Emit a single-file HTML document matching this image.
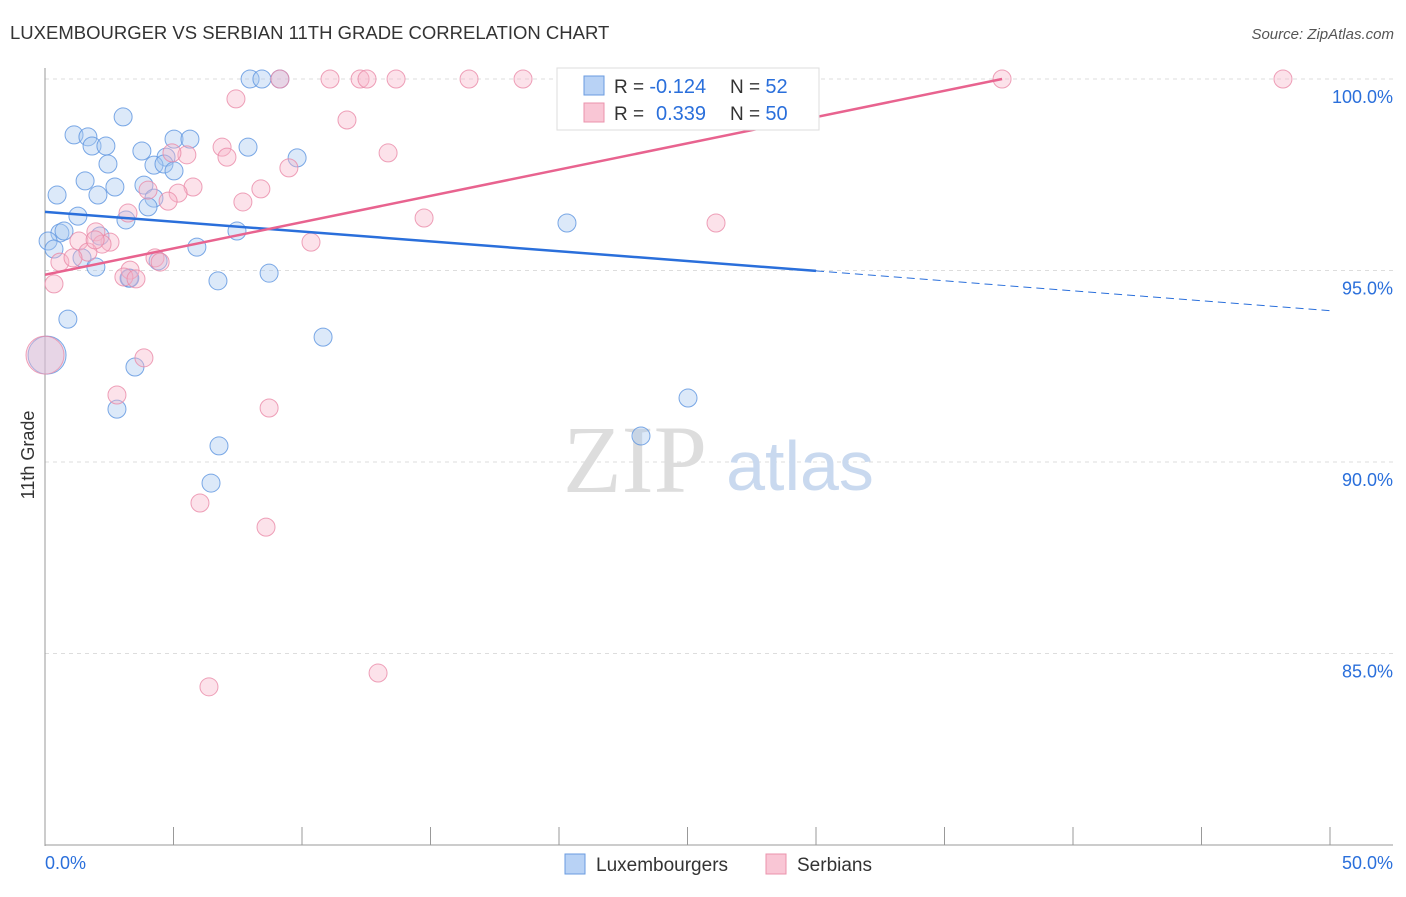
<!DOCTYPE html>
<html><head><meta charset="utf-8"><style>
body{margin:0;background:#fff;font-family:"Liberation Sans",sans-serif;}
</style></head><body>
<svg id="c" width="1406" height="892" xmlns="http://www.w3.org/2000/svg">
<text x="10" y="39" font-size="18.5" fill="#333">LUXEMBOURGER VS SERBIAN 11TH GRADE CORRELATION CHART</text>
<text x="1394" y="39" font-size="15" fill="#555" font-style="italic" text-anchor="end">Source: ZipAtlas.com</text>
<text x="34" y="455" font-size="18" fill="#333" transform="rotate(-90 34 455)" text-anchor="middle">11th Grade</text>
<g id="grid"></g>
<text x="635" y="492" font-size="96" fill="#ddd" font-family="Liberation Serif" text-anchor="middle">ZIP</text>
<text x="800" y="490" font-size="70" fill="#c9d9ef" text-anchor="middle">atlas</text>
<g id="pts"></g>
<g id="lines"></g>
<g>
<rect x="557" y="68" width="262" height="62" fill="#fff" stroke="#ddd"/>
<rect x="584" y="76" width="20" height="19" fill="#b8d2f5" stroke="#6a9be0"/>
<rect x="584" y="103" width="20" height="19" fill="#f9c6d5" stroke="#eb93ac"/>
<text x="614" y="93" font-size="19" fill="#333">R = <tspan fill="#2a6fdb" font-size="20">-0.124</tspan><tspan x="730">N = </tspan><tspan fill="#2a6fdb" font-size="20">52</tspan></text>
<text x="614" y="120" font-size="19" fill="#333">R = <tspan fill="#2a6fdb" x="656" font-size="20">0.339</tspan><tspan x="730">N = </tspan><tspan fill="#2a6fdb" font-size="20">50</tspan></text>
</g>
<g>
<rect x="565" y="854" width="20" height="20" fill="#b8d2f5" stroke="#6a9be0"/>
<text x="596" y="871" font-size="19" fill="#333">Luxembourgers</text>
<rect x="766" y="854" width="20" height="20" fill="#f9c6d5" stroke="#eb93ac"/>
<text x="797" y="871" font-size="19" fill="#333">Serbians</text>
</g>
</svg>
<script>
const yTicks=[100,95,90,85];
const xTickLabels=["0.0%","50.0%"];
const luxX=[7.98,8.44,9.14,26.89,3.04,1.13,1.67,5.02,5.64,1.83,2.37,7.90,3.77,4.71,9.81,2.45,4.24,4.63,5.02,1.56,2.72,3.85,0.47,2.06,4.24,4.01,1.28,3.15,20.31,7.47,0.58,0.74,2.14,0.12,5.91,0.35,1.44,4.40,1.98,8.72,3.27,6.73,0.89,10.82,0.08,3.50,25.02,2.80,6.77,23.19,6.46,3.30];
const luxY=[100,100,100,100,99.01,98.54,98.49,98.43,98.43,98.25,98.25,98.22,98.12,97.96,97.94,97.78,97.75,97.78,97.60,97.34,97.18,97.23,96.97,96.97,96.89,96.66,96.42,96.32,96.24,96.03,95.98,96.03,95.90,95.77,95.61,95.56,95.33,95.25,95.09,94.93,94.80,94.73,93.73,93.26,92.79,92.48,91.67,91.38,90.42,90.68,89.45,94.80];
const serX=[9.14,11.09,12.26,12.53,13.66,16.50,18.60,20.58,37.24,48.17,7.43,11.75,6.89,13.35,5.52,4.94,7.08,9.49,5.76,4.01,5.18,4.79,7.70,8.40,3.23,14.75,26.11,1.98,1.32,2.53,2.22,3.31,0.58,1.67,4.28,10.35,1.09,3.07,3.54,0.35,0.00,3.85,2.80,8.72,6.03,8.60,6.38,12.96,4.48,1.95];
const serY=[100,100,100,100,100,100,100,100,100,100,99.48,98.93,98.22,98.07,98.02,98.07,97.96,97.68,97.18,97.10,97.02,96.81,96.79,97.13,96.50,96.37,96.24,96.01,95.77,95.74,95.69,95.01,95.22,95.48,95.33,95.74,95.33,94.83,94.78,94.65,92.79,92.72,91.75,91.41,88.93,88.30,84.13,84.49,95.22,95.80];
const luxTrend=[[0,96.53],[30,94.99],[50,93.95]];
const serTrend=[[0,94.89],[37.24,100]];
const X=v=>45+v*25.7, Y=v=>79+(100-v)*38.3;
const NS="http://www.w3.org/2000/svg";
function mk(t,a,p){const e=document.createElementNS(NS,t);for(const k in a)e.setAttribute(k,a[k]);p.appendChild(e);return e;}
const g=document.getElementById('grid');
yTicks.forEach(t=>{
 const l=mk('line',{x1:45,x2:1393,y1:Y(t),y2:Y(t),stroke:'#ddd','stroke-dasharray':'4,4'},g);
 
 
 const tx=mk('text',{x:1393,y:Y(t)+24,'font-size':18,fill:'#2a6fdb','text-anchor':'end'},g);
 tx.textContent=t.toFixed(1)+'%';
 
 
});
mk('line',{x1:45,x2:45,y1:68,y2:846,stroke:'#999'},g);
mk('line',{x1:45,x2:1393,y1:845,y2:845,stroke:'#999'},g);
for(let i=0;i<=10;i++){mk('line',{x1:X(i*5),x2:X(i*5),y1:827,y2:845,stroke:'#999'},g);}
xTickLabels.forEach((s,i)=>{
 const tx=mk('text',{x:i?1393:45,y:869,'font-size':18,fill:'#2a6fdb','text-anchor':i?'end':'start'},g);
 tx.textContent=s;
 
 
});
const p=document.getElementById('pts');
function dots(xs,ys,fill,st,nm){xs.forEach((x,i)=>{
 const big=(x<0.1&&ys[i]<93&&ys[i]>92.5);
 const c=mk('circle',{cx:X(x),cy:Y(ys[i]),r:big?19:9,fill:fill,'fill-opacity':0.4,stroke:st,'stroke-opacity':0.8,'stroke-width':1},p);
 
 
});}
dots(luxX,luxY,'#a8c8f0','#5b93e0','luxembourger-point');
dots(serX,serY,'#f7b6ca','#ea8aa8','serbian-point');
const L=document.getElementById('lines');
const b1=mk('line',{x1:X(luxTrend[0][0]),y1:Y(luxTrend[0][1]),x2:X(luxTrend[1][0]),y2:Y(luxTrend[1][1]),stroke:'#2a6fdb','stroke-width':2.5},L);


const b2=mk('line',{x1:X(luxTrend[1][0]),y1:Y(luxTrend[1][1]),x2:X(luxTrend[2][0]),y2:Y(luxTrend[2][1]),stroke:'#2a6fdb','stroke-width':1,'stroke-dasharray':'8,5'},L);


const s1=mk('line',{x1:X(serTrend[0][0]),y1:Y(serTrend[0][1]),x2:X(serTrend[1][0]),y2:Y(serTrend[1][1]),stroke:'#e8638f','stroke-width':2.5},L);


</script>
</body></html>
